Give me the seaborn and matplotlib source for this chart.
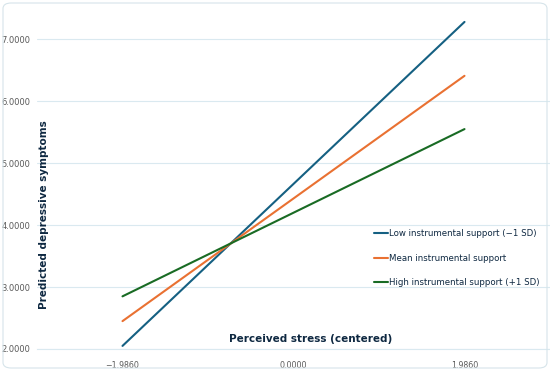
import pandas as pd
import matplotlib.pyplot as plt
import seaborn as sns
from matplotlib.patches import FancyBboxPatch

# Simple slopes data
stress = [-1.9860, 1.9860]
low_support = [2.05, 7.28]
mean_support = [2.45, 6.41]
high_support = [2.85, 5.55]
groups = ["Low instrumental support (\u22121 SD)",
          "Mean instrumental support",
          "High instrumental support (+1 SD)"]
xtick_vals = [-1.9860, 0.0, 1.9860]
ytick_vals = [2, 3, 4, 5, 6, 7]

df = pd.DataFrame({
    "stress": stress * 3,
    "pred": low_support + mean_support + high_support,
    "group": [g for g in groups for _ in stress],
})

colors = ["#156082", "#E97132", "#196B24"]
label_col = "#0E2841"
tick_col = "#595959"
grid_col = "#DAE9F0"

sns.set_style("white")
plt.rcParams['font.family'] = ['DejaVu Sans']

fig = plt.figure(figsize=(5.5, 3.71), dpi=100)
ax = fig.add_axes([37 / 550, 1 - 349 / 371, 513 / 550, 340.7 / 371])

sns.lineplot(data=df, x="stress", y="pred", hue="group", hue_order=groups,
             palette=colors, linewidth=1.5, ax=ax)

ax.set_xlim(-1.5 * 1.986, 1.5 * 1.986)
ax.set_ylim(2, 7.5)
ax.set_xticks(xtick_vals)
ax.set_xticklabels([f"{v:.4f}".replace("-", "\u2212") for v in xtick_vals])
ax.set_xticks([-0.993, 0.993], minor=True)
ax.set_yticks(ytick_vals)
ax.set_yticklabels([f"{v:.4f}" for v in ytick_vals])
ax.tick_params(axis="x", which="major", length=0, pad=9, labelsize=5.7, colors=tick_col)
ax.tick_params(axis="x", which="minor", length=3, color=grid_col, direction="in")
ax.tick_params(axis="y", length=0, pad=5, labelsize=6, colors=tick_col)

ax.grid(axis="y", color=grid_col, linewidth=0.8)
ax.set_axisbelow(True)
for s in ["top", "right", "left"]:
    ax.spines[s].set_visible(False)
ax.spines["bottom"].set_color(grid_col)
ax.spines["bottom"].set_linewidth(0.8)

ax.set_xlabel("Perceived stress (centered)", fontsize=7.5, fontweight="bold", color=label_col)
ax.xaxis.set_label_coords(0.534, 0.029)
ax.xaxis.label.set_va("center")
ax.set_ylabel("Predicted depressive symptoms", fontsize=7.5, fontweight="bold", color=label_col)
ax.yaxis.set_label_coords(0.013, 0.395)
ax.yaxis.label.set_va("center")

leg = ax.legend(loc="center left", bbox_to_anchor=(0.657, 0.267), frameon=False,
                fontsize=6.2, handlelength=1.6, handletextpad=0.1,
                labelspacing=1.85, borderpad=0, borderaxespad=0)
for t in leg.get_texts():
    t.set_color(label_col)

# rounded card border around the chart
fig.patches.append(FancyBboxPatch((3 / 550, 3 / 371), 544 / 550, 365 / 371,
                                  boxstyle="round,pad=0,rounding_size=0.015",
                                  transform=fig.transFigure, fill=False,
                                  edgecolor="#D6E4EA", linewidth=0.8))

fig.savefig("out.png", dpi=100)
